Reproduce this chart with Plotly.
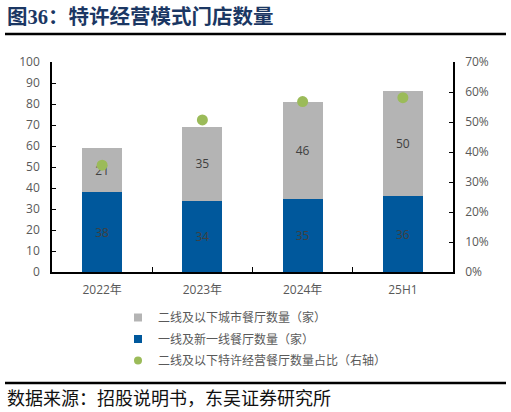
import plotly.graph_objects as go

categories = ["2022年", "2023年", "2024年", "25H1"]
tier1_counts = [38, 34, 35, 36]
tier2_counts = [21, 35, 46, 50]
franchise_share = [0.356, 0.507, 0.568, 0.581]

name_tier2 = "二线及以下城市餐厅数量（家）"
name_tier1 = "一线及新一线餐厅数量（家）"
name_share = "二线及以下特许经营餐厅数量占比（右轴）"

BLUE = "#00589C"
GRAY = "#B4B4B4"
GREEN = "#9BBB59"
FONT = "Open Sans, Noto Sans CJK SC, sans-serif"
TICK_COLOR = "#595959"

fig = go.Figure()
fig.add_trace(go.Bar(
    x=categories, y=tier1_counts, name=name_tier1, showlegend=False,
    marker=dict(color=BLUE, line=dict(width=0)),
    text=tier1_counts, textposition="inside", insidetextanchor="middle",
    textfont=dict(color="#404040", size=12, family=FONT),
))
fig.add_trace(go.Bar(
    x=categories, y=tier2_counts, name=name_tier2, showlegend=False,
    marker=dict(color=GRAY, line=dict(width=0)),
    text=tier2_counts, textposition="inside", insidetextanchor="middle",
    textfont=dict(color="#404040", size=12, family=FONT),
))
fig.add_trace(go.Scatter(
    x=categories, y=franchise_share, name=name_share, showlegend=False,
    mode="markers", yaxis="y2",
    marker=dict(color=GREEN, size=11),
))
# legend entries (small square/circle symbols like the original)
for nm, col, sym, rank in [(name_tier2, GRAY, "square", 1),
                           (name_tier1, BLUE, "square", 2),
                           (name_share, GREEN, "circle", 3)]:
    fig.add_trace(go.Scatter(
        x=[None], y=[None], name=nm, mode="markers", legendrank=rank,
        legendgroup=nm, marker=dict(color=col, size=8, symbol=sym),
    ))

W, H = 511, 412
L, R, T, B = 52, 58, 62, 140
pw, ph = W - L - R, H - T - B

def px(x):
    return (x - L) / pw

def py(y):
    return (H - B - y) / ph

fig.update_layout(
    width=W, height=H,
    margin=dict(l=L, r=R, t=T, b=B),
    paper_bgcolor="white", plot_bgcolor="white",
    barmode="stack", bargap=0.6,
    font=dict(family=FONT, size=12, color=TICK_COLOR),
    showlegend=True,
    legend=dict(x=px(118), y=py(303), xanchor="left", yanchor="top",
                font=dict(size=12, color=TICK_COLOR, family=FONT),
                bgcolor="rgba(0,0,0,0)", traceorder="grouped", tracegroupgap=2.5,
                itemwidth=30),
    xaxis=dict(
        showline=True, linecolor="#000000", linewidth=1.5,
        ticks="inside", tickson="boundaries", ticklen=5, tickcolor="#000000",
        tickfont=dict(size=12, color=TICK_COLOR), ticklabelstandoff=6,
        showgrid=False, zeroline=False,
    ),
    yaxis=dict(
        range=[0, 100], dtick=10, showline=True, linecolor="#000000", linewidth=1.5,
        ticks="inside", ticklen=4, tickcolor="#000000",
        tickfont=dict(size=12, color=TICK_COLOR), ticklabelstandoff=8,
        showgrid=False, zeroline=False,
    ),
    yaxis2=dict(
        range=[0, 0.7], dtick=0.1, tickformat=".0%", overlaying="y", side="right",
        showline=True, linecolor="#000000", linewidth=1.5,
        ticks="inside", ticklen=4, tickcolor="#000000",
        tickfont=dict(size=12, color=TICK_COLOR), ticklabelstandoff=8,
        showgrid=False, zeroline=False,
    ),
    shapes=[
        dict(type="line", xref="paper", yref="paper", x0=px(5), x1=px(506),
             y0=py(34), y1=py(34), line=dict(color="#000000", width=2.5)),
        dict(type="line", xref="paper", yref="paper", x0=px(5), x1=px(506),
             y0=py(383), y1=py(383), line=dict(color="#000000", width=2.5)),
    ],
    annotations=[
        dict(text="<b>图36：特许经营模式门店数量</b>", xref="paper", yref="paper",
             x=px(5), y=py(17), xanchor="left", yanchor="middle", showarrow=False,
             font=dict(size=20.5, color="#1B3763",
                       family="Liberation Serif, Noto Sans CJK SC, serif")),
        dict(text="数据来源：招股说明书，东吴证券研究所", xref="paper", yref="paper",
             x=px(5), y=py(397), xanchor="left", yanchor="middle", showarrow=False,
             font=dict(size=18, color="#111111",
                       family="Noto Sans CJK SC, serif")),
    ],
)

fig.write_html("out.html")
